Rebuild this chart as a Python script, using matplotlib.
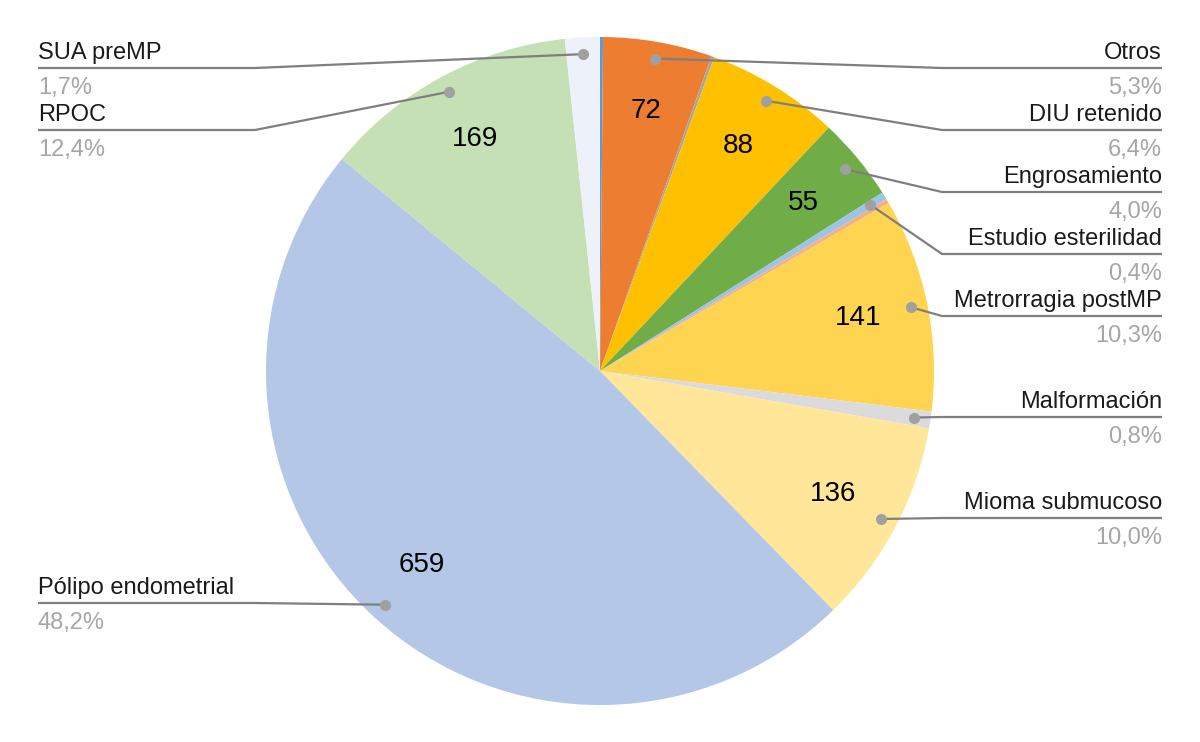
import matplotlib.pyplot as plt
import numpy as np

plt.rcParams['font.family'] = ['Liberation Sans', 'DejaVu Sans']

# data (clockwise from the top)
categorias = ['', 'Otros', '', 'DIU retenido', 'Engrosamiento', 'Estudio esterilidad', '',
              'Metrorragia postMP', 'Malformación', 'Mioma submucoso', 'Pólipo endometrial',
              'RPOC', 'SUA preMP']
valores = [2, 72, 2, 88, 55, 5, 3, 141, 11, 136, 659, 169, 23]
colores = ['#5B9BD5', '#ED7D31', '#A5A5A5', '#FFC000', '#70AD47', '#9DC3E6', '#F4B183',
           '#FFD450', '#DBDBDB', '#FFE699', '#B4C7E7', '#C5E0B4', '#EDF2FA']
mostrar_valor = [False, True, False, True, True, False, False, True, False, True, True, True, False]

# layout: callout line height (pixels from top) for each labelled slice
linea_y = {'Otros': 68, 'DIU retenido': 130, 'Engrosamiento': 192, 'Estudio esterilidad': 254,
           'Metrorragia postMP': 316, 'Malformación': 417, 'Mioma submucoso': 518,
           'SUA preMP': 68, 'RPOC': 130, 'Pólipo endometrial': 603}

W, H = 1200, 742
cx, cy, R = 600, H - 371, 334

fig = plt.figure(figsize=(12, 7.42), dpi=100)
ax = fig.add_axes([0, 0, 1, 1])

wedges, _ = ax.pie(valores, colors=colores, startangle=90, counterclock=False,
                   center=(cx, cy), radius=R, frame=True,
                   wedgeprops=dict(linewidth=0))
ax.set_xlim(0, W)
ax.set_ylim(0, H)
ax.axis('off')

total = sum(valores)
for w, nombre, v, show in zip(wedges, categorias, valores, mostrar_valor):
    ang = np.deg2rad((w.theta1 + w.theta2) / 2)
    if show:
        ax.text(cx + 0.79 * R * np.cos(ang), cy + 0.79 * R * np.sin(ang), str(v),
                ha='center', va='center', fontsize=20, color='black')
    if not nombre:
        continue
    px, py = cx + 0.95 * R * np.cos(ang), cy + 0.95 * R * np.sin(ang)
    ly = H - linea_y[nombre]
    pct = f'{100 * v / total:.1f}'.replace('.', ',') + '%'
    if np.cos(ang) > 0:
        bx, tx, ha = 942, 1162, 'right'
    else:
        bx, tx, ha = 255, 38, 'left'
    if (np.cos(ang) > 0 and px > bx) or (np.cos(ang) < 0 and px < bx):
        bx = px
    ax.plot([px, bx, tx], [py, ly, ly], color='#7F7F7F', lw=1.6, zorder=5,
            solid_capstyle='butt')
    ax.plot(px, py, 'o', color='#A0A0A0', ms=7, zorder=6)
    ax.text(tx, ly + 9, nombre, ha=ha, va='baseline', fontsize=17, color='#1A1A1A')
    ax.text(tx, ly - 26, pct, ha=ha, va='baseline', fontsize=17, color='#A6A6A6')

fig.savefig('out.png', dpi=100, facecolor='white')
